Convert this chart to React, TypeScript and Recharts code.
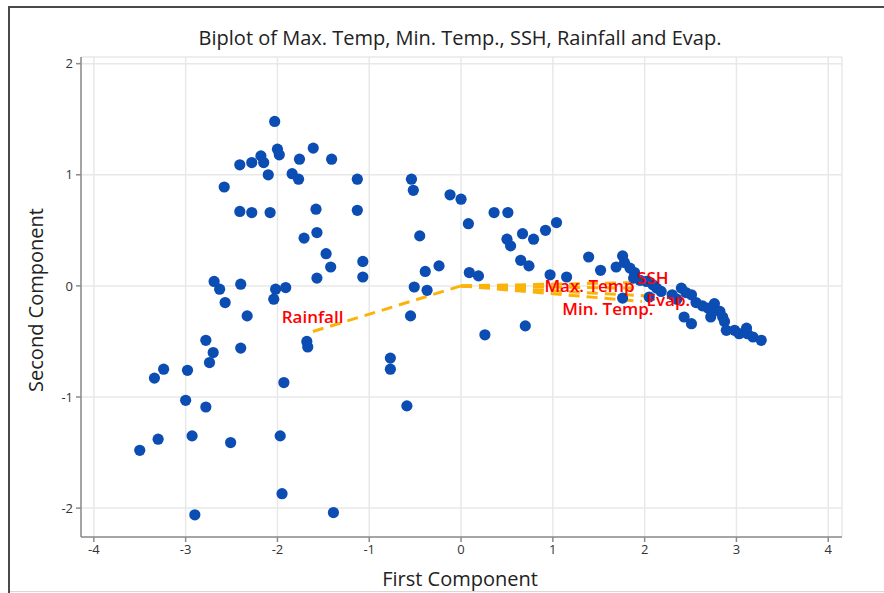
import React from "react"
import {
  ScatterChart,
  Scatter,
  XAxis,
  YAxis,
  CartesianGrid,
} from "recharts"

// PC scores (first component, second component)
const firstComp = [
  -2.03, -2.0, -1.98, -2.41, -2.28, -2.18, -2.15, -2.1, -2.58, -2.41, -2.28, -2.08,
  -1.61, -1.76, -1.84, -1.77, -1.58, -1.71, -1.57, -1.57, -2.69, -2.63, -2.57, -2.4,
  -2.02, -1.91, -2.04, -2.33,
  -2.78, -2.7, -2.74, -2.4, -3.24, -3.34, -2.98, -3.0, -2.78, -2.93, -3.3, -3.5,
  -2.51, -2.9, -1.93, -1.97, -1.95, -1.68, -1.67,
  -1.41, -1.13, -1.13, -1.47, -1.42, -1.07, -1.07, -0.54, -0.52, -0.12, 0.0, 0.08,
  -0.45, -0.39, -0.24, -0.51, -0.37, 0.09, 0.19, -0.55,
  -0.77, -0.77, -0.59, -1.39,
  0.36, 0.51, 0.5, 0.54, 0.67, 0.79, 0.92, 1.04, 0.65, 0.74, 0.97, 1.15, 0.26, 0.7,
  1.39, 1.52, 1.69,
  1.76, 1.78, 1.84, 1.89, 1.88, 1.95, 2.02, 2.09, 2.13, 2.18, 1.76, 2.05, 2.3, 2.4,
  2.45, 2.51, 2.35, 2.56, 2.63, 2.69, 2.76, 2.74, 2.72, 2.82, 2.85, 2.87, 2.43, 2.51,
  2.89, 2.98, 3.03, 3.11, 3.12, 3.18, 3.27,
]
const secondComp = [
  1.48, 1.23, 1.18, 1.09, 1.11, 1.17, 1.11, 1.0, 0.89, 0.67, 0.66, 0.66,
  1.24, 1.14, 1.01, 0.96, 0.69, 0.43, 0.48, 0.07, 0.04, -0.03, -0.15, 0.015,
  -0.03, -0.015, -0.12, -0.27,
  -0.49, -0.6, -0.69, -0.56, -0.75, -0.83, -0.76, -1.03, -1.09, -1.35, -1.38, -1.48,
  -1.41, -2.06, -0.87, -1.35, -1.87, -0.5, -0.55,
  1.14, 0.96, 0.68, 0.29, 0.17, 0.22, 0.08, 0.96, 0.86, 0.82, 0.78, 0.56,
  0.45, 0.13, 0.18, -0.01, -0.04, 0.12, 0.09, -0.27,
  -0.65, -0.75, -1.08, -2.04,
  0.66, 0.66, 0.42, 0.36, 0.47, 0.42, 0.5, 0.57, 0.23, 0.18, 0.1, 0.08, -0.44, -0.36,
  0.26, 0.14, 0.17,
  0.27, 0.21, 0.16, 0.12, 0.07, 0.05, 0.04, 0.01, -0.02, -0.05, -0.11, -0.1, -0.08, -0.02,
  -0.06, -0.08, -0.12, -0.15, -0.18, -0.2, -0.16, -0.21, -0.28, -0.23, -0.28, -0.32, -0.28, -0.34,
  -0.4, -0.4, -0.43, -0.38, -0.43, -0.46, -0.49,
]

// loading vectors
const loadingNames = ["Max. Temp", "Min. Temp.", "SSH", "Rainfall", "Evap."]
const loadingX = [1.88, 1.97, 1.95, -1.65, 2.02]
const loadingY = [-0.02, -0.14, 0.03, -0.42, -0.09]

const xTicks = [-4, -3, -2, -1, 0, 1, 2, 3, 4]
const yTicks = [-2, -1, 0, 1, 2]

const labelPos: Record<string, { dx: number; dy: number; anchor: string }> = {
  "Max. Temp": { dx: 1, dy: 4, anchor: "end" },
  "Min. Temp.": { dx: -34, dy: 14, anchor: "middle" },
  SSH: { dx: -3, dy: 1, anchor: "start" },
  Rainfall: { dx: 3, dy: -10, anchor: "middle" },
  "Evap.": { dx: 0, dy: 10, anchor: "start" },
}

const FONT = "'Open Sans', 'Noto Sans', sans-serif"
const BLUE = "#0b4db3"
const ORANGE = "#fbb30a"
const AXIS = "#8c8c8c"

const scores = firstComp.map((x, i) => ({ x, y: secondComp[i] }))

const Dot = (props: any) => {
  const { cx, cy } = props
  if (cx == null || cy == null) return null
  return <circle cx={cx} cy={cy} r={5.6} fill={BLUE} />
}

const VectorEnd = (props: any) => {
  const { cx, cy, payload } = props
  if (!payload.name) return <g />
  const p = labelPos[payload.name]
  return (
    <text
      x={cx + p.dx}
      y={cy + p.dy}
      textAnchor={p.anchor as any}
      fill="#ff0000"
      fontSize={17}
      fontWeight={600}
      fontFamily={FONT}
    >
      {payload.name}
    </text>
  )
}

export default function App() {
  return (
    <div
      style={{
        position: "absolute",
        left: 0,
        top: 0,
        width: 884,
        height: 593,
        background: "#fff",
        fontFamily: FONT,
        overflow: "hidden",
      }}
    >
      <div style={{ position: "absolute", left: 8, top: 6, width: 876, height: 2, background: "#4a4a4a" }} />
      <div style={{ position: "absolute", left: 8, top: 6, width: 2, height: 587, background: "#4a4a4a" }} />
      <div style={{ position: "absolute", left: 10, top: 591, width: 874, height: 1, background: "#d8d8d8" }} />

      <div
        style={{
          position: "absolute",
          left: 0,
          width: 920,
          top: 24,
          textAlign: "center",
          fontSize: 20,
          color: "#222",
          whiteSpace: "nowrap",
        }}
      >
        Biplot of Max. Temp, Min. Temp., SSH, Rainfall and Evap.
      </div>

      <div style={{ position: "absolute", left: 0, width: 920, top: 565, textAlign: "center", fontSize: 20, color: "#222" }}>
        First Component
      </div>
      <div
        style={{
          position: "absolute",
          left: 35,
          top: 300,
          transform: "translate(-50%, -50%) rotate(-90deg)",
          fontSize: 20,
          color: "#222",
          whiteSpace: "nowrap",
        }}
      >
        Second Component
      </div>

      <div style={{ position: "absolute", left: 0, top: 0 }}>
        <ScatterChart width={884} height={593} margin={{ top: 57, right: 42, bottom: 0, left: 0 }}>
          <CartesianGrid stroke="#e8e8e8" strokeWidth={1.5} />
          <XAxis
            type="number"
            dataKey="x"
            domain={[-4.14, 4.15]}
            ticks={xTicks}
            allowDataOverflow
            height={56}
            stroke={AXIS}
            strokeWidth={1.5}
            tickSize={5}
            tickMargin={3}
            tick={{ fill: "#333", fontSize: 13, fontFamily: FONT }}
          />
          <XAxis
            xAxisId="top"
            orientation="top"
            type="number"
            domain={[-4.14, 4.15]}
            allowDataOverflow
            height={0}
            tick={false}
            tickLine={false}
            stroke={AXIS}
            strokeWidth={1.5}
          />
          <YAxis
            type="number"
            dataKey="y"
            domain={[-2.26, 2.06]}
            ticks={yTicks}
            allowDataOverflow
            width={81}
            stroke={AXIS}
            strokeWidth={1.5}
            tickSize={5}
            tickMargin={3}
            tick={{ fill: "#333", fontSize: 13, fontFamily: FONT }}
          />
          <YAxis
            yAxisId="right"
            orientation="right"
            type="number"
            domain={[-2.26, 2.06]}
            allowDataOverflow
            width={0}
            tick={false}
            tickLine={false}
            stroke={AXIS}
            strokeWidth={1.5}
          />
          {loadingNames.map((name, i) => (
            <Scatter
              key={name}
              data={[
                { x: 0, y: 0 },
                { x: loadingX[i], y: loadingY[i], name },
              ]}
              line={{ stroke: ORANGE, strokeWidth: 3, strokeDasharray: "11 7" }}
              lineType="joint"
              shape={() => <g />}
              isAnimationActive={false}
            />
          ))}
          <Scatter data={scores} shape={Dot} isAnimationActive={false} />
          {loadingNames.map((name, i) => (
            <Scatter
              key={"lbl-" + name}
              data={[{ x: loadingX[i], y: loadingY[i], name }]}
              shape={VectorEnd}
              isAnimationActive={false}
            />
          ))}
        </ScatterChart>
      </div>
    </div>
  )
}
